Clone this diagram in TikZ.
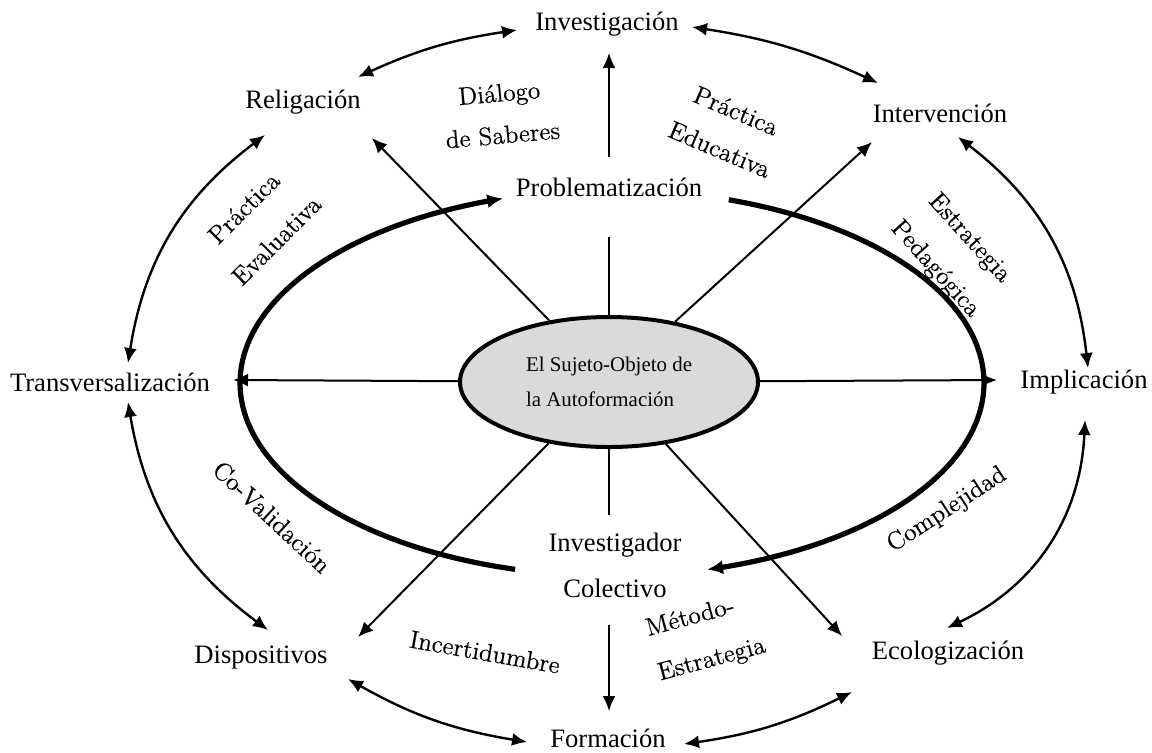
\documentclass[tikz,border=0pt]{standalone}
\usepackage{fontspec}
\setmainfont{Liberation Serif}
\newfontfamily\slantfont[FakeBold=0.5]{Latin Modern Roman}
\usetikzlibrary{arrows.meta,shapes.geometric,calc}
\definecolor{corefill}{RGB}{218,218,218}
\begin{document}
\begin{tikzpicture}[x=0.5pt,y=-0.5pt,
  lbl/.style={font=\fontsize{13.3}{23}\selectfont, inner sep=0pt, align=center},
  rlbl/.style={lbl, font=\slantfont\fontsize{12.6}{23}\selectfont},
  rlbltight/.style={lbl, font=\slantfont\fontsize{12.6}{21}\selectfont},
  tip/.style={-{Latex[length=7.5pt,width=6.5pt]}},
  link/.style={{Latex[length=7.5pt,width=6.5pt]}-{Latex[length=7.5pt,width=6.5pt]}, line width=1.2pt},
  spoke/.style={line width=1pt},
  ring/.style={line width=2.6pt, -{Latex[length=8pt,width=7pt]}}]
\useasboundingbox (0,0) rectangle (1152,752);

% central concept
\node[ellipse, draw, line width=2pt, fill=corefill, minimum width=149pt, minimum height=65pt,
      inner sep=0pt, align=left, font=\fontsize{10.45}{17.5}\selectfont] (core) at (609,382)
      {El Sujeto-Objeto de\\la Autoformación};

% outer ring of concepts
\node[lbl] (inv) at (607,24)  {Investigación};
\node[lbl] (rel) at (303,102) {Religación};
\node[lbl] (int) at (940,113) {Intervención};
\node[lbl] (tra) at (110,382) {Transversalización};
\node[lbl] (imp) at (1084,382) {Implicación};
\node[lbl] (dis) at (261,658) {Dispositivos};
\node[lbl] (for) at (608,738) {Formación};
\node[lbl] (eco) at (948,653) {Ecologización};

% inner labels on the axis
\node[lbl] (prob) at (609,187) {Problematización};
\node[lbl] (ic) at (615,565) {Investigador\\Colectivo};

% relation labels, set along their arrows
\node[rlbltight, rotate=5]   (dial) at (501,114) {Diálogo\\de Saberes};
\node[rlbltight, rotate=-23] (pedu) at (728,130) {Práctica\\Educativa};
\node[rlbl, rotate=45]  (peva) at (260,224) {Práctica\\Evaluativa};
\node[rlbl, rotate=-48] (estp) at (952,254) {Estrategia\\Pedagógica};
\node[rlbl, rotate=-43] (cova) at (272,517) {Co-Validación};
\node[rlbl, rotate=33]  (comp) at (947,510) {Complejidad};
\node[rlbl, rotate=-10] (ince) at (485,652) {Incertidumbre};
\node[rlbl, rotate=15, align=left] (mete) at (706,638) {Método-\\Estrategia};

% arrow tips of the spokes
\coordinate (inv-s) at (609,53);
\coordinate (rel-s) at (372,138);
\coordinate (int-s) at (872,142);
\coordinate (tra-s) at (233,380);
\coordinate (imp-s) at (997,380);
\coordinate (dis-s) at (358,637);
\coordinate (eco-s) at (842,636);
\coordinate (for-s) at (609,711);

% ends of the outer two-way arrows
\coordinate (rel-c1) at (358,77);
\coordinate (inv-c1) at (517,30);
\coordinate (inv-c2) at (692,27);
\coordinate (int-c1) at (878,83);
\coordinate (int-c2) at (958,137);
\coordinate (imp-c1) at (1088,368);
\coordinate (imp-c2) at (1085,420);
\coordinate (eco-c1) at (947,628);
\coordinate (eco-c2) at (852,692);
\coordinate (for-c1) at (684,744);
\coordinate (for-c2) at (527,742);
\coordinate (dis-c1) at (348,679);
\coordinate (dis-c2) at (268,630);
\coordinate (tra-c1) at (128,402);
\coordinate (tra-c2) at (128,363);
\coordinate (rel-c2) at (265,135);

% thick ring around the centre, in two arrowed halves
\draw[ring] plot[domain=105.1:253, samples=90, variable=\t] ({612+372*cos(\t)},{383+193*sin(\t)});
\draw[ring] plot[domain=-71.7:75.2, samples=90, variable=\t] ({612+372*cos(\t)},{383+193*sin(\t)});

% vertical axis, interrupted by the inner labels
\draw[spoke] (core.north) -- ($(core.north |- prob.south)+(0,40)$);
\draw[spoke,tip] ($(core.north |- prob.north)+(0,-20)$) -- (inv-s);
\draw[spoke] (core.south) -- ($(core.south |- ic.north)+(0,-17)$);
\draw[spoke,tip] ($(core.south |- ic.south)+(0,27)$) -- (for-s);

% diagonal and horizontal spokes
\draw[spoke,tip] (core) -- (rel-s);
\draw[spoke,tip] (core) -- (int-s);
\draw[spoke,tip] (core) -- (tra-s);
\draw[spoke,tip] (core) -- (imp-s);
\draw[spoke,tip] (core) -- (dis-s);
\draw[spoke,tip] (core) -- (eco-s);

% outer two-way arrows, clockwise
\draw[link] (rel-c1) to[bend left=8]  (inv-c1);
\draw[link] (inv-c2) to[bend left=8]  (int-c1);
\draw[link] (int-c2) to[bend left=23] (imp-c1);
\draw[link] (imp-c2) to[bend left=31] (eco-c1);
\draw[link] (eco-c2) to[bend left=9]  (for-c1);
\draw[link] (for-c2) to[bend left=10] (dis-c1);
\draw[link] (dis-c2) to[bend left=22] (tra-c1);
\draw[link] (tra-c2) to[bend left=22] (rel-c2);
\end{tikzpicture}
\end{document}
